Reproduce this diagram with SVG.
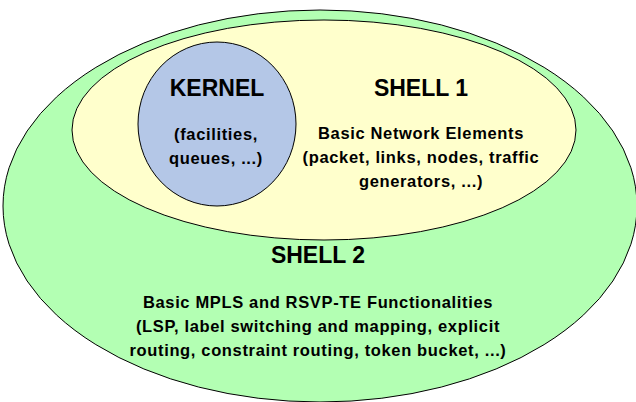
<svg xmlns="http://www.w3.org/2000/svg" width="636" height="402" viewBox="0 0 636 402">
<style>
.sh{stroke:#000;stroke-width:1}
.t{font-family:"Liberation Sans",Arial,sans-serif;font-weight:bold;text-anchor:middle;fill:#000}
.h{font-size:23px}
.b{font-size:16.5px;letter-spacing:0.65px}
</style>
<rect width="636" height="402" fill="#fff"/>
<g id="shell2">
<ellipse class="sh" cx="320" cy="206" rx="317" ry="196" fill="#b3ffb3"/>
<text class="t h" x="318" y="263">SHELL 2</text>
<text class="t b" x="318" y="308">Basic MPLS and RSVP-TE Functionalities</text>
<text class="t b" x="318" y="332">(LSP, label switching and mapping, explicit</text>
<text class="t b" x="318" y="356">routing, constraint routing, token bucket, ...)</text>
</g>
<g id="shell1">
<ellipse class="sh" cx="324" cy="130" rx="252" ry="110" fill="#ffffcc"/>
<text class="t h" x="421" y="96">SHELL 1</text>
<text class="t b" x="421" y="139">Basic Network Elements</text>
<text class="t b" x="421" y="163">(packet, links, nodes, traffic</text>
<text class="t b" x="421" y="187">generators, ...)</text>
</g>
<g id="kernel">
<ellipse class="sh" cx="217" cy="124" rx="79" ry="82" fill="#b4c7e7"/>
<text class="t h" x="217" y="96">KERNEL</text>
<text class="t b" x="216" y="140">(facilities,</text>
<text class="t b" x="216" y="164">queues, ...)</text>
</g>
<g id="connectors"/>
</svg>
